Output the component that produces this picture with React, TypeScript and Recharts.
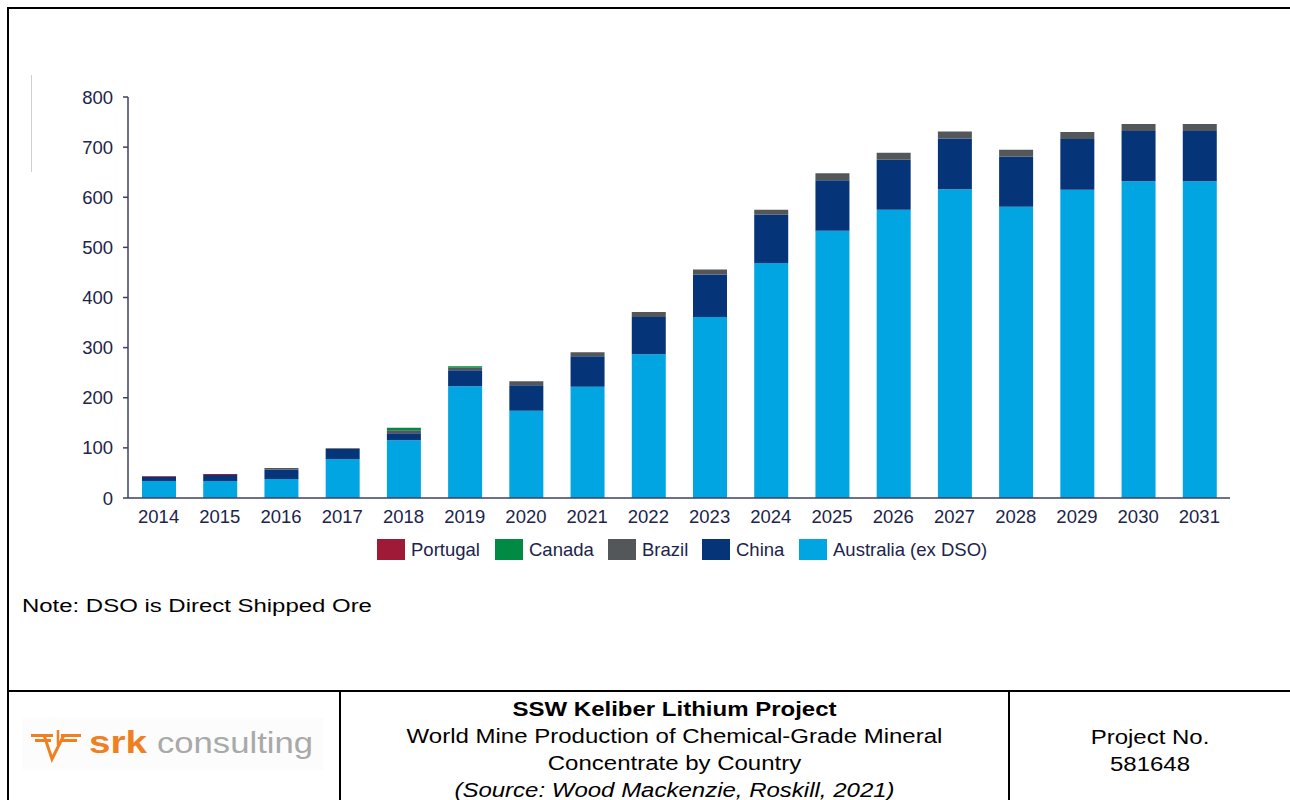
import React from "react";
import { BarChart, Bar, XAxis, YAxis } from "recharts";

const YEARS = ["2014", "2015", "2016", "2017", "2018", "2019", "2020", "2021", "2022", "2023", "2024", "2025", "2026", "2027", "2028", "2029", "2030", "2031"];
const AUSTRALIA = [34, 34, 38, 78, 115, 223, 174, 222, 287, 361, 469, 533, 575, 616, 581, 615, 632, 632];
const CHINA = [8, 12, 19, 20, 14, 32, 51, 61, 74, 85, 96, 101, 100, 101, 100, 101, 100, 100];
const BRAZIL = [0.5, 0, 3, 1.5, 6, 5, 8, 8, 10, 10, 10, 14, 14, 14, 14, 14, 14, 14];
const CANADA = [0, 0, 0, 0, 5, 3, 0, 0, 0, 0, 0, 0, 0, 0, 0, 0, 0, 0];
const PORTUGAL = [1.5, 2, 0, 0, 0, 0, 0, 0, 0, 0, 0, 0, 0, 0, 0, 0, 0, 0];
const Y_TICKS = [0, 100, 200, 300, 400, 500, 600, 700, 800];

const COLORS = {
  australia: "#00a5e2",
  china: "#063479",
  brazil: "#53575a",
  canada: "#008a43",
  portugal: "#9e1a37",
};

// legend runs in reverse stack order, as in the source
const LEGEND = [
  { label: "Portugal", color: COLORS.portugal, x: 377 },
  { label: "Canada", color: COLORS.canada, x: 495 },
  { label: "Brazil", color: COLORS.brazil, x: 608 },
  { label: "China", color: COLORS.china, x: 702 },
  { label: "Australia (ex DSO)", color: COLORS.australia, x: 799 },
];

const data = YEARS.map((year, i) => ({
  year,
  australia: AUSTRALIA[i],
  china: CHINA[i],
  brazil: BRAZIL[i],
  canada: CANADA[i],
  portugal: PORTUGAL[i],
}));

const FONT = '"Liberation Sans", Arial, Helvetica, sans-serif';
const AXIS = "#3d4063";
const TEXT = "#20244a";

function SrkLogo() {
  const orange = "#f07f22";
  return (
    <svg width={320} height={62} style={{ position: "absolute", left: 15, top: 713 }}>
      <rect x={7} y={5} width={301} height={52} fill="#fcfcfc" />
      <rect x={16} y={21} width={22} height={3} fill={orange} />
      <rect x={20} y={26} width={16} height={3} fill={orange} />
      <rect x={46} y={21} width={20} height={3} fill={orange} />
      <rect x={47} y={26} width={15} height={3} fill={orange} />
      <path d="M29 22 L37 46 L49 22" stroke={orange} strokeWidth={3} fill="none" />
      <line x1={43} y1={17} x2={43} y2={32} stroke={orange} strokeWidth={2.5} />
      <text x={74} y={40} fontFamily={FONT} fontWeight="bold" fontSize={31} fill={orange} textLength={58} lengthAdjust="spacingAndGlyphs">
        srk
      </text>
      <text x={142} y={40} fontFamily={FONT} fontSize={30} fill="#a9a9a9" textLength={156} lengthAdjust="spacingAndGlyphs">
        consulting
      </text>
    </svg>
  );
}

export default function App() {
  return (
    <div style={{ position: "absolute", left: 0, top: 0, width: 1290, height: 800, overflow: "hidden", background: "#fff", fontFamily: FONT }}>
      {/* page frame */}
      <div style={{ position: "absolute", left: 7, top: 7, width: 1300, height: 820, borderLeft: "2px solid #000", borderTop: "2px solid #000" }} />
      <div style={{ position: "absolute", left: 31, top: 75, width: 1, height: 97, background: "#cfcfcf" }} />

      <div style={{ position: "absolute", left: 0, top: 0 }}>
        <BarChart width={1290} height={580} data={data} margin={{ top: 97, right: 60, left: 0, bottom: 0 }} barSize={34}>
          <XAxis
            dataKey="year"
            interval={0}
            height={82}
            tickLine={false}
            tickSize={0}
            tickMargin={12}
            axisLine={{ stroke: AXIS, strokeWidth: 1.5 }}
            tick={{ fill: TEXT, fontSize: 18.5, fontFamily: FONT }}
          />
          <YAxis
            width={128}
            domain={[0, 800]}
            ticks={Y_TICKS}
            interval={0}
            tickSize={5}
            tickMargin={10}
            axisLine={{ stroke: AXIS, strokeWidth: 1.5 }}
            tickLine={{ stroke: AXIS, strokeWidth: 1.5 }}
            tick={{ fill: TEXT, fontSize: 18.5, fontFamily: FONT }}
          />
          <Bar dataKey="australia" stackId="a" fill={COLORS.australia} isAnimationActive={false} />
          <Bar dataKey="china" stackId="a" fill={COLORS.china} isAnimationActive={false} />
          <Bar dataKey="brazil" stackId="a" fill={COLORS.brazil} isAnimationActive={false} />
          <Bar dataKey="canada" stackId="a" fill={COLORS.canada} isAnimationActive={false} />
          <Bar dataKey="portugal" stackId="a" fill={COLORS.portugal} isAnimationActive={false} />
        </BarChart>
      </div>

      {LEGEND.map((item) => (
        <div key={item.label} style={{ position: "absolute", left: item.x, top: 539, height: 21, display: "flex", alignItems: "center", whiteSpace: "nowrap" }}>
          <div style={{ width: 28, height: 21, background: item.color }} />
          <span style={{ marginLeft: 6, fontSize: 18.5, color: TEXT }}>{item.label}</span>
        </div>
      ))}

      <div style={{ position: "absolute", left: 22, top: 594, fontSize: 18, lineHeight: "24px", color: "#000", whiteSpace: "nowrap", transform: "scaleX(1.33)", transformOrigin: "left center" }}>
        Note: DSO is Direct Shipped Ore
      </div>

      {/* title block */}
      <div style={{ position: "absolute", left: 7, top: 690, width: 1300, height: 2, background: "#000" }} />
      <div style={{ position: "absolute", left: 339, top: 690, width: 2, height: 120, background: "#000" }} />
      <div style={{ position: "absolute", left: 1008, top: 690, width: 2, height: 120, background: "#000" }} />

      <SrkLogo />

      <div style={{ position: "absolute", left: 341, top: 696, width: 667, textAlign: "center", fontSize: 20, lineHeight: "27px", color: "#000", whiteSpace: "nowrap", transform: "scaleX(1.2)", transformOrigin: "center" }}>
        <div style={{ fontWeight: "bold" }}>SSW Keliber Lithium Project</div>
        <div>World Mine Production of Chemical-Grade Mineral</div>
        <div>Concentrate by Country</div>
        <div style={{ fontStyle: "italic" }}>(Source: Wood Mackenzie, Roskill, 2021)</div>
      </div>

      <div style={{ position: "absolute", left: 1010, top: 724, width: 280, textAlign: "center", fontSize: 20, lineHeight: "27px", color: "#000", transform: "scaleX(1.2)", transformOrigin: "center" }}>
        <div>Project No.</div>
        <div>581648</div>
      </div>
    </div>
  );
}
